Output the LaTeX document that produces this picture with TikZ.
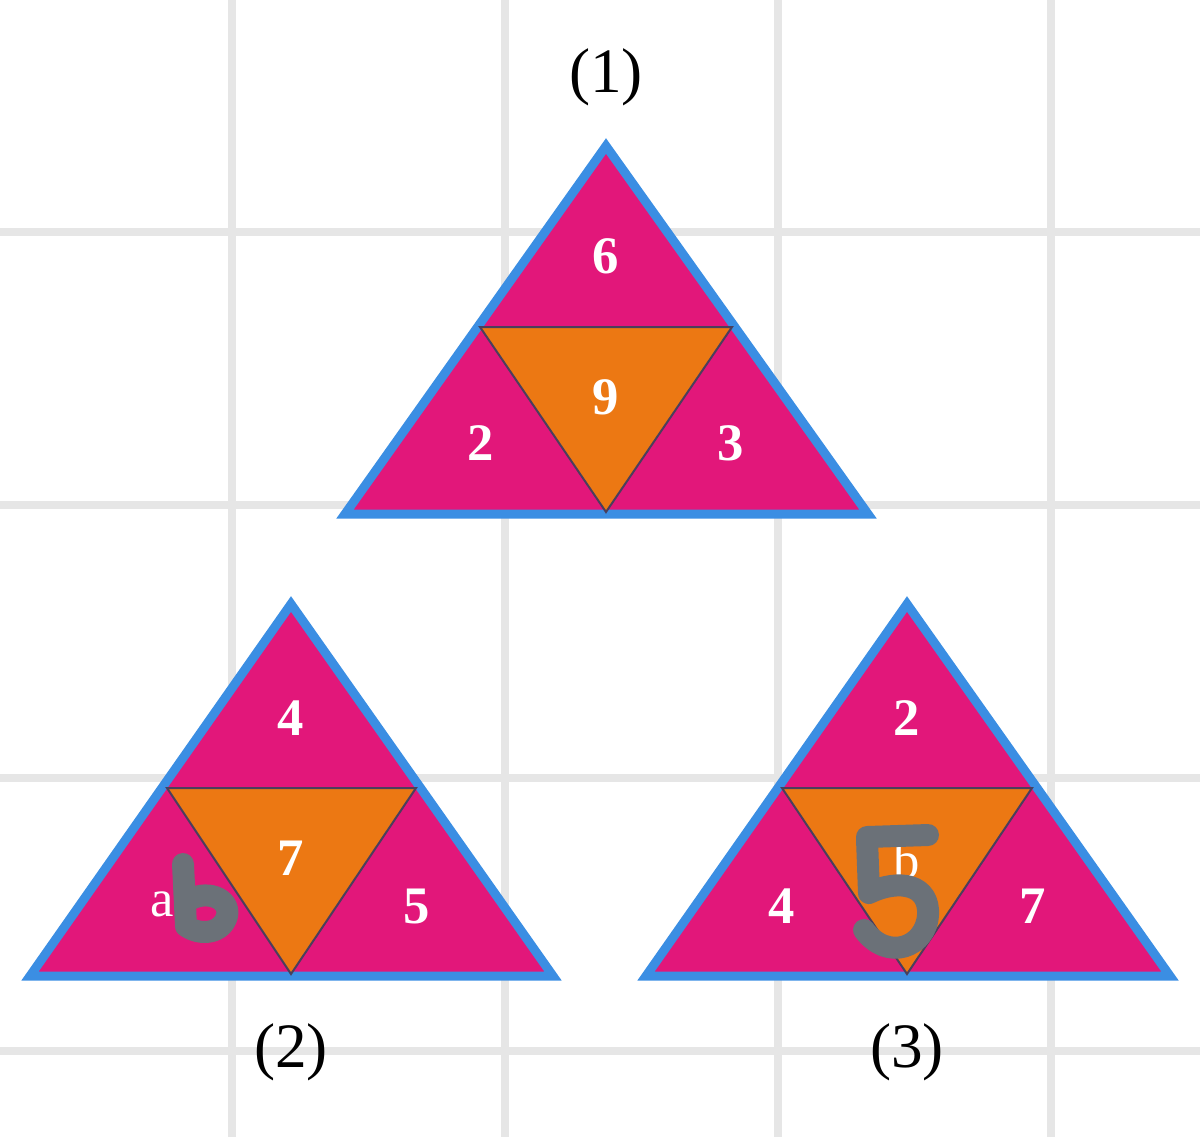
\documentclass[tikz,border=0pt]{standalone}
\usepackage{fontspec}
\setmainfont{Liberation Serif}
\usepackage{tikz}

\definecolor{tripink}{HTML}{E2177A}
\definecolor{triorange}{HTML}{EC7813}
\definecolor{triblue}{HTML}{3B8EE3}
\definecolor{gridgray}{HTML}{E6E6E6}
\definecolor{edgegray}{HTML}{4A3F5C}
\definecolor{pengray}{HTML}{6B7178}

\begin{document}
\begin{tikzpicture}[x=0.02cm, y=-0.02cm,
    num/.style={text=white, font=\fontsize{30}{32}\selectfont\bfseries},
    var/.style={text=white, font=\fontsize{30}{32}\selectfont},
    lbl/.style={font=\fontsize{36}{38}\selectfont},
    outer/.style={fill=tripink, draw=triblue, line width=0.18cm},
    inner/.style={fill=triorange, draw=edgegray, line width=0.04cm},
    pen/.style={draw=pengray, line width=0.44cm, line cap=round, line join=round}]
    \useasboundingbox (0, 0) rectangle (1200, 1137);

    % grid behind
    \foreach \g in {232, 505, 778, 1051} {
        \draw[gridgray, line width=0.16cm] (\g, 0) -- (\g, 1137);
        \draw[gridgray, line width=0.16cm] (0, \g) -- (1200, \g);
    }

    % triangle (1)
    \coordinate (t1a) at (606, 146);
    \coordinate (t1b) at (345, 514);
    \coordinate (t1c) at (868, 514);
    \draw[outer] (t1a) -- (t1b) -- (t1c) -- cycle;
    \draw[inner] (480, 327) -- (732, 327) -- (606, 512) -- cycle;

    % triangle (2)
    \coordinate (t2a) at (291, 604);
    \coordinate (t2b) at (30, 976);
    \coordinate (t2c) at (553, 976);
    \draw[outer] (t2a) -- (t2b) -- (t2c) -- cycle;
    \draw[inner] (167, 788) -- (416, 788) -- (291, 974) -- cycle;

    % triangle (3)
    \coordinate (t3a) at (907, 604);
    \coordinate (t3b) at (646, 976);
    \coordinate (t3c) at (1170, 976);
    \draw[outer] (t3a) -- (t3b) -- (t3c) -- cycle;
    \draw[inner] (782, 788) -- (1032, 788) -- (907, 974) -- cycle;

    % numbers
    \node[num] (t1top) at (606, 256) {6};
    \node[num] (t1mid) at (606, 397) {9};
    \node[num] (t1left) at (481, 443) {2};
    \node[num] (t1right) at (731, 443) {3};

    \node[num] (t2top) at (291, 718) {4};
    \node[num] (t2mid) at (291, 858) {7};
    \node[var] (t2left) at (162, 904) {a};
    \node[num] (t2right) at (417, 906) {5};

    \node[num] (t3top) at (907, 718) {2};
    \node[var] (t3mid) at (907, 860) {b};
    \node[num] (t3left) at (782, 906) {4};
    \node[num] (t3right) at (1033, 906) {7};

    % labels
    \node[lbl] (cap1) at (606, 77) {(1)};
    \node[lbl] (cap2) at (291, 1052) {(2)};
    \node[lbl] (cap3) at (907, 1052) {(3)};

    % handwriting on top
    \draw[pen] (183, 864) -- (186, 926)
        .. controls (200, 936) and (222, 934) .. (227, 916)
        .. controls (231, 898) and (205, 888) .. (186, 902);
    \draw[pen] (867, 837) -- (928, 835);
    \draw[pen] (867, 839) -- (869, 893)
        .. controls (900, 878) and (930, 885) .. (928, 915)
        .. controls (926, 947) and (888, 962) .. (864, 930);
\end{tikzpicture}
\end{document}
